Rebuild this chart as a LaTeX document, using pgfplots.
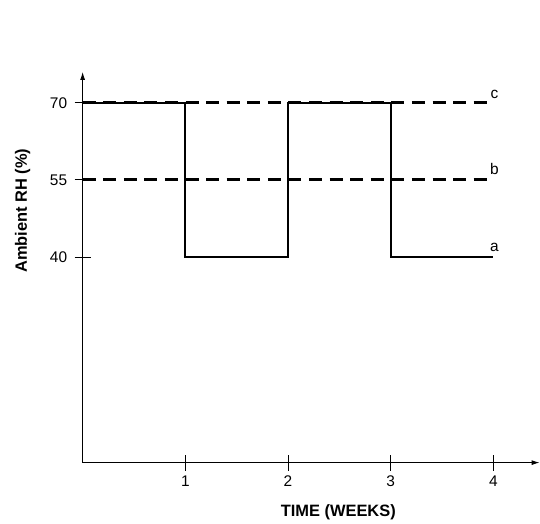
\documentclass[border=0pt]{standalone}
\usepackage{pgfplots}
\pgfplotsset{compat=1.18}
\usepackage{fontspec}
\setmainfont{Liberation Sans}
\usetikzlibrary{arrows.meta}
\begin{document}
\begin{tikzpicture}
\begin{axis}[
  scale only axis,
  width=457.3bp, height=391bp,
  xmin=0, xmax=4.45, ymin=0, ymax=76,
  axis lines=left,
  axis line style={line width=0.9bp, -{Latex[length=8bp,width=5bp]}},
  xtick={1,2,3,4}, ytick={40,55,70},
  tick align=center,
  major tick length=16bp,
  tick style={line width=0.9bp, black},
  /pgf/number format/assume math mode=true,
  tick label style={font=\fontsize{15.5}{17}\selectfont},
  xticklabel style={yshift=-2bp},
  yticklabel style={xshift=-4bp},
  clip=false,
]
\addplot[black, line width=2.2bp, line join=miter] coordinates {
  (0,70) (1,70) (1,40) (2,40) (2,70) (3,70) (3,40) (4,40)
};
\addplot[black, line width=3bp, dash pattern=on 13bp off 7.6bp] coordinates {(0,70) (4,70)};
\addplot[black, line width=3bp, dash pattern=on 13bp off 7.6bp] coordinates {(0,55) (4,55)};
\node[anchor=base, font=\fontsize{15.5}{17}\selectfont] at (axis cs:4.01,70) [yshift=4bp] {c};
\node[anchor=base, font=\fontsize{15.5}{17}\selectfont] at (axis cs:4.01,55) [yshift=5bp] {b};
\node[anchor=base, font=\fontsize{15.5}{17}\selectfont] at (axis cs:4.01,40) [yshift=6bp] {a};
\node[rotate=90, font=\bfseries\fontsize{16.5}{18}\selectfont] at ([xshift=-60bp]axis cs:0,49) {Ambient RH (\%)};
\node[font=\bfseries\fontsize{16.5}{18}\selectfont] at ([yshift=-50bp]axis cs:2.49,0) {TIME (WEEKS)};
\path (axis cs:0,0) ++(-82.7bp,-58bp) rectangle ++(540bp,521bp);
\end{axis}
\end{tikzpicture}
\end{document}
